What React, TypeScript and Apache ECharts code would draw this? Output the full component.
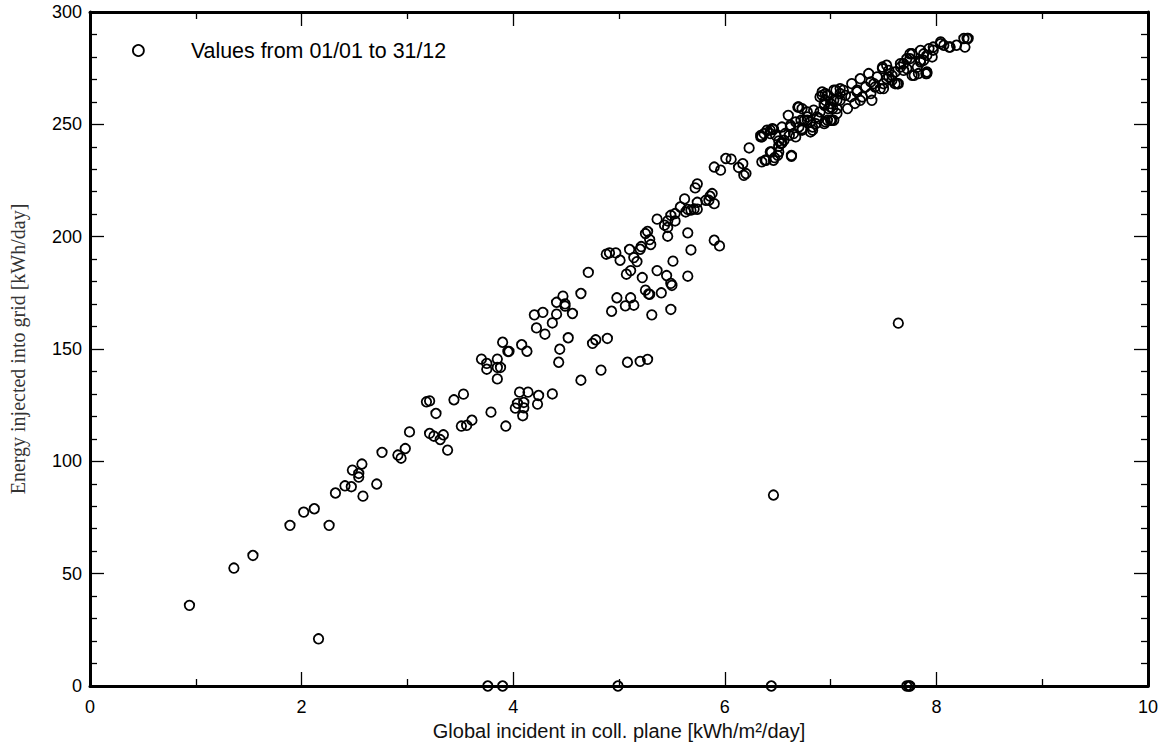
import React, { useEffect, useRef } from "react";
import * as echarts from "echarts";

const xTicks = [0, 2, 4, 6, 8, 10];
const yTicks = [0, 50, 100, 150, 200, 250, 300];
const seriesName = "Values from 01/01 to 31/12";
const xName = "Global incident in coll. plane [kWh/m²/day]";
const yName = "Energy injected into grid [kWh/day]";

const pointsLow: number[][] = [
  [0.94, 35.9], [2.16, 21.0], [1.36, 52.5], [1.54, 58.1], [1.89, 71.5], [2.02, 77.4], [2.12, 78.9],
  [2.26, 71.5], [2.32, 85.9], [2.41, 89.1], [2.47, 88.7], [2.48, 96.1], [2.54, 94.6], [2.54, 93.0],
  [2.57, 98.8], [2.58, 84.5], [2.71, 89.9], [2.76, 104.0], [2.91, 102.8], [2.94, 101.4], [2.98, 105.7],
  [3.02, 113.1], [3.18, 126.5], [3.21, 126.9], [3.27, 121.3], [3.21, 112.4], [3.25, 111.2], [3.31, 109.7],
  [3.34, 111.8], [3.38, 105.0], [3.44, 127.4], [3.53, 129.9], [3.51, 115.7], [3.56, 116.0], [3.61, 118.3],
  [3.79, 121.9], [3.70, 145.5], [3.75, 143.6], [3.75, 141.0], [3.85, 145.5], [3.85, 141.8], [3.85, 136.7],
  [3.88, 141.8], [3.93, 115.7],
];

const pointsMid: number[][] = [
  [3.90, 153.0], [3.95, 148.9], [3.96, 148.9], [4.08, 151.9], [4.13, 149.0], [4.06, 130.8], [4.14, 130.8],
  [4.24, 129.3], [4.23, 125.5], [4.37, 130.0], [4.04, 125.8], [4.02, 123.7], [4.10, 126.2], [4.10, 123.8],
  [4.09, 120.3], [4.20, 165.2], [4.28, 166.3], [4.22, 159.4], [4.30, 156.6], [4.37, 161.6], [4.41, 165.5],
  [4.41, 170.8], [4.47, 173.5], [4.49, 170.1], [4.49, 169.1], [4.56, 165.8], [4.44, 149.9], [4.43, 144.1],
  [4.52, 155.0], [4.64, 136.1], [4.64, 174.7], [4.71, 184.1], [4.75, 152.5], [4.78, 154.1], [4.89, 154.7],
  [4.83, 140.6], [4.93, 166.8], [4.98, 172.8], [5.06, 169.2], [5.11, 172.8], [5.14, 169.5], [5.08, 144.1],
  [5.20, 144.5], [5.27, 145.4], [5.07, 183.3], [5.11, 184.9], [5.22, 181.8], [5.25, 176.2], [5.28, 174.5],
  [5.29, 174.3], [5.31, 165.2], [5.40, 175.0], [5.36, 184.9], [5.45, 182.7], [5.49, 179.2], [5.50, 178.3],
  [5.49, 167.6], [5.51, 189.1], [5.65, 182.4], [5.68, 194.1], [5.65, 201.7], [5.90, 198.4], [5.95, 195.9],
  [4.88, 192.2], [4.91, 192.8], [4.97, 192.8], [5.01, 189.5], [5.10, 194.3], [5.14, 190.7], [5.17, 188.9],
  [5.20, 194.4], [5.21, 195.6], [5.27, 202.3], [5.25, 201.4], [5.30, 196.5], [5.29, 198.7],
  [5.36, 207.8], [5.43, 205.1], [5.46, 207.0], [5.46, 204.1], [5.49, 209.5], [5.53, 207.0], [5.53, 210.3],
  [5.46, 200.2], [5.58, 213.2], [5.62, 216.8], [5.63, 211.0], [5.65, 212.1], [5.68, 211.8], [5.71, 212.3],
  [5.74, 212.2], [5.74, 215.3], [5.72, 221.7], [5.74, 223.5], [5.82, 216.2], [5.86, 218.0], [5.88, 219.2],
  [5.90, 214.7], [5.85, 216.2], [5.90, 231.0], [5.96, 229.6], [6.01, 234.8], [6.06, 234.5], [6.13, 230.8],
  [6.17, 232.5], [6.18, 227.3], [6.20, 228.1],
];

const pointsHigh: number[][] = [
  [6.23, 239.5], [6.34, 245.1], [6.35, 244.4], [6.40, 247.4], [6.45, 248.1], [6.43, 245.9], [6.35, 233.3],
  [6.39, 234.0], [6.44, 237.7], [6.47, 235.2], [6.50, 236.2], [6.53, 241.4], [6.51, 240.2], [6.63, 236.2],
  [6.54, 248.8], [6.60, 254.0], [6.62, 249.6], [6.67, 244.4], [6.69, 257.7], [6.72, 251.8], [6.73, 248.1],
  [6.78, 251.8], [6.81, 246.6], [6.83, 248.8], [6.86, 250.3], [6.87, 253.3], [6.90, 262.2], [6.92, 264.4],
  [6.94, 259.2], [6.95, 251.1], [6.98, 257.0], [7.01, 251.8], [7.03, 260.7], [7.05, 265.2], [7.06, 257.0],
  [7.09, 260.7], [7.12, 265.2], [7.16, 257.0], [7.19, 262.2], [7.20, 268.1], [7.23, 259.3], [7.25, 264.5],
  [7.28, 270.3], [7.30, 262.2], [7.33, 266.6], [7.36, 272.6], [7.38, 263.7], [7.39, 260.7], [7.41, 268.1],
  [7.44, 271.1], [7.47, 265.9], [7.49, 274.8], [7.50, 268.1], [7.53, 270.3], [7.55, 274.0], [7.58, 271.8],
  [7.61, 268.1], [7.64, 268.1], [7.66, 277.0], [7.69, 274.0], [7.72, 279.2], [7.77, 281.4], [7.79, 271.8],
  [7.82, 275.5], [7.85, 278.5], [7.88, 281.4], [7.91, 273.3], [7.93, 283.7], [7.96, 280.0], [7.97, 284.4],
  [8.04, 286.7], [8.07, 285.2], [8.12, 284.4], [8.19, 285.2], [8.26, 288.2], [8.29, 288.2], [8.27, 284.4],
  [6.37, 245.9], [6.43, 247.4], [6.46, 247.7], [6.48, 245.1], [6.51, 242.6], [6.54, 241.7], [6.56, 242.9],
  [6.57, 245.9], [6.61, 245.1], [6.65, 245.9], [6.62, 248.8], [6.67, 251.1], [6.70, 248.8], [6.73, 247.4],
  [6.75, 251.8], [6.78, 253.3], [6.81, 251.1], [6.83, 247.4], [6.89, 252.6], [6.90, 255.5], [6.94, 258.5],
  [6.95, 260.7], [6.92, 262.9], [6.97, 262.9], [7.00, 259.2], [7.02, 257.0], [7.06, 260.7], [7.09, 263.7],
  [7.06, 254.8], [6.94, 250.3], [7.00, 251.8], [6.70, 257.7], [6.73, 257.0], [6.78, 255.5], [6.84, 256.3],
  [6.34, 244.4], [6.38, 234.0], [6.43, 237.7], [6.46, 234.0], [6.51, 237.7], [6.63, 235.8],
  [6.95, 263.7], [7.03, 265.2], [6.97, 251.8], [7.03, 251.8], [7.00, 257.7], [7.09, 265.9], [7.14, 262.9],
  [7.25, 265.2], [7.28, 260.7], [7.38, 268.9], [7.42, 266.6], [7.49, 275.5], [7.50, 265.9], [7.53, 276.3],
  [7.55, 271.1], [7.58, 269.6], [7.61, 273.3], [7.63, 268.1], [7.66, 275.5], [7.69, 277.0], [7.75, 281.4],
  [7.77, 271.8], [7.83, 272.6], [7.85, 282.9], [7.88, 278.5], [7.91, 272.6], [7.72, 274.8],
  [7.90, 272.6], [8.04, 285.9], [8.13, 284.4], [8.30, 288.2], [7.97, 283.0], [7.91, 280.7], [7.85, 277.7],
  [7.75, 279.2],
];

const pointsOutliers: number[][] = [
  [7.64, 161.5], [6.46, 85.0],
  [3.76, 0], [3.90, 0], [4.99, 0], [6.44, 0], [7.72, 0], [7.74, 0], [7.75, 0],
];

const SANS = "'Liberation Sans', Arial, sans-serif";
const SERIF = "'Liberation Serif', 'Times New Roman', serif";

export default function App() {
  const ref = useRef<HTMLDivElement>(null);

  useEffect(() => {
    if (!ref.current) return;
    const chart = echarts.init(ref.current, undefined, { renderer: "svg" });
    const data = [...pointsLow, ...pointsMid, ...pointsHigh, ...pointsOutliers];

    const baseAxis = (extra: any) => ({
      axisLine: { show: true, onZero: false, lineStyle: { color: "#000", width: 3 } },
      axisTick: { show: true, inside: true, length: 14, lineStyle: { color: "#000", width: 1.3 } },
      minorTick: { show: true, length: 7, lineStyle: { color: "#000", width: 1.3 } },
      splitLine: { show: false },
      ...extra,
    });

    chart.setOption({
      animation: false,
      backgroundColor: "#fff",
      grid: { left: 89, right: 18, top: 12, bottom: 63, containLabel: false },
      legend: {
        show: true,
        left: 127,
        top: 35,
        padding: 5,
        icon: "circle",
        itemWidth: 11,
        itemHeight: 11,
        itemStyle: { color: "transparent", borderColor: "#000", borderWidth: 1.8 },
        textStyle: { fontFamily: SANS, fontSize: 21.4, color: "#000", padding: [0, 0, 0, 42] },
        data: [seriesName],
      },
      xAxis: [
        baseAxis({
          type: "value",
          min: xTicks[0],
          max: xTicks[xTicks.length - 1],
          interval: 2,
          minorTick: { show: true, splitNumber: 2, length: 7, lineStyle: { color: "#000", width: 1.3 } },
          axisLabel: { show: true, fontFamily: SANS, fontSize: 18, color: "#000", margin: 12 },
          name: xName,
          nameLocation: "middle",
          nameGap: 34,
          nameTextStyle: { fontFamily: SANS, fontSize: 20, color: "#111" },
        }),
        baseAxis({
          type: "value",
          position: "top",
          min: xTicks[0],
          max: xTicks[xTicks.length - 1],
          interval: 2,
          minorTick: { show: true, splitNumber: 2, length: 7, lineStyle: { color: "#000", width: 1.3 } },
          axisLabel: { show: false },
        }),
      ],
      yAxis: [
        baseAxis({
          type: "value",
          min: yTicks[0],
          max: yTicks[yTicks.length - 1],
          interval: 50,
          minorTick: { show: true, splitNumber: 5, length: 7, lineStyle: { color: "#000", width: 1.3 } },
          axisLabel: { show: true, fontFamily: SANS, fontSize: 18, color: "#000", margin: 8 },
          name: yName,
          nameLocation: "middle",
          nameGap: 62,
          nameTextStyle: { fontFamily: SERIF, fontSize: 20, color: "#333" },
        }),
        baseAxis({
          type: "value",
          position: "right",
          min: yTicks[0],
          max: yTicks[yTicks.length - 1],
          interval: 50,
          minorTick: { show: true, splitNumber: 5, length: 7, lineStyle: { color: "#000", width: 1.3 } },
          axisLabel: { show: false },
        }),
      ],
      series: [
        {
          name: seriesName,
          type: "scatter",
          xAxisIndex: 0,
          yAxisIndex: 0,
          symbol: "circle",
          symbolSize: 9.5,
          clip: false,
          itemStyle: { color: "transparent", borderColor: "#000", borderWidth: 1.8, opacity: 1 },
          data,
        },
      ],
    });

    return () => chart.dispose();
  }, []);

  return (
    <div
      ref={ref}
      style={{ position: "fixed", left: 0, top: 0, width: 1166, height: 749, background: "#fff" }}
    />
  );
}
